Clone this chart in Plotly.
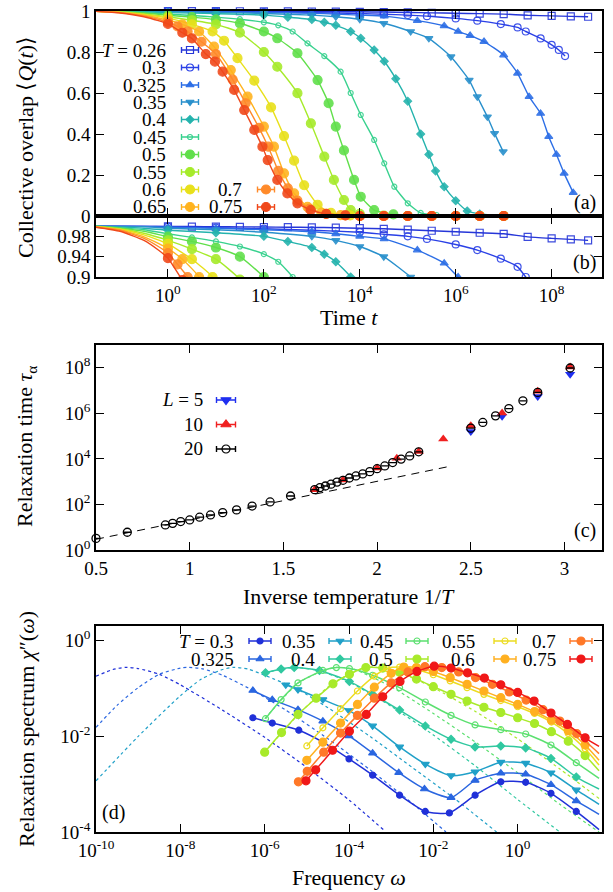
import plotly.graph_objects as go

W, H = 613, 892
SERIF = "Liberation Serif"
BLACK = "#000000"

# ---------------------------------------------------------------------------
# (a)/(b)  collective overlap <Q(t)>; time stored as log10(t)
# ---------------------------------------------------------------------------
T_LABELS_Q = ["0.26", "0.3", "0.325", "0.35", "0.4", "0.45",
              "0.5", "0.55", "0.6", "0.65", "0.7", "0.75"]

LOGT_026 = [-1.5, -0.5, 0.0, 0.5, 1.0, 1.5, 2.0, 2.5, 3.0, 3.5, 4.0, 4.5, 5.0, 5.5, 6.0, 6.5, 7.0, 7.5, 8.0, 8.4, 8.76]
Q_026 = [1.0, 0.9996, 0.9994, 0.9992, 0.999, 0.9987, 0.9984, 0.998, 0.9975, 0.997, 0.996, 0.9948, 0.993, 0.991, 0.989, 0.987, 0.985, 0.979, 0.976, 0.974, 0.972]

LOGT_030 = [-1.5, -0.5, 0.0, 1.0, 2.0, 3.0, 4.0, 4.5, 5.0, 5.4, 6.0, 6.45, 6.94, 7.29, 7.46, 7.77, 8.0, 8.15, 8.28]
Q_030 = [1.0, 0.9995, 0.999, 0.997, 0.995, 0.992, 0.988, 0.984, 0.98, 0.975, 0.964, 0.953, 0.936, 0.92, 0.9, 0.866, 0.835, 0.81, 0.78]

LOGT_0325 = [-1.5, -0.5, 0.0, 1.0, 2.0, 3.0, 3.5, 4.0, 4.51, 5.2, 5.76, 6.05, 6.3, 6.59, 7.0, 7.29, 7.53, 7.77, 7.94, 8.1, 8.26, 8.45]
Q_0325 = [1.0, 0.9993, 0.998, 0.996, 0.993, 0.989, 0.985, 0.98, 0.975, 0.953, 0.927, 0.9, 0.88, 0.851, 0.785, 0.696, 0.582, 0.5, 0.387, 0.3, 0.208, 0.114]

LOGT_035 = [-1.5, -0.5, 0.0, 1.0, 2.0, 3.0, 3.5, 4.0, 4.5, 5.06, 5.44, 5.9, 6.28, 6.45, 6.66, 6.81, 6.99]
Q_035 = [1.0, 0.999, 0.996, 0.993, 0.988, 0.98, 0.972, 0.96, 0.94, 0.9, 0.867, 0.777, 0.663, 0.582, 0.484, 0.403, 0.314]

LOGT_040 = [-1.5, -0.5, 0.0, 1.0, 2.0, 2.5, 3.0, 3.26, 3.5, 3.81, 4.02, 4.3, 4.51, 4.75, 5.0, 5.27, 5.44, 5.58, 5.76, 6.0, 6.24, 6.5, 7.0]
Q_040 = [1.0, 0.996, 0.992, 0.987, 0.98, 0.97, 0.958, 0.945, 0.93, 0.9, 0.867, 0.81, 0.755, 0.67, 0.56, 0.4, 0.3, 0.22, 0.143, 0.075, 0.025, 0.01, 0.0]

LOGT_045 = [-1.5, -0.5, 0.0, 0.5, 1.0, 1.5, 2.0, 2.3, 2.6, 2.91, 3.26, 3.6, 3.81, 4.02, 4.3, 4.51, 4.72, 5.0, 5.27, 5.6, 6.0, 6.5, 7.0]
Q_045 = [1.0, 0.993, 0.985, 0.978, 0.97, 0.96, 0.945, 0.93, 0.9, 0.842, 0.78, 0.704, 0.6, 0.493, 0.371, 0.257, 0.143, 0.062, 0.015, 0.005, 0.0, 0.0, 0.0]

LOGT_050 = [-1.5, -1.0, -0.5, 0.0, 0.5, 1.0, 1.5, 2.0, 2.28, 2.7, 3.12, 3.35, 3.5, 3.67, 3.88, 4.02, 4.3, 4.7, 5.0, 5.5, 6.0, 6.5, 7.0]
Q_050 = [1.0, 0.996, 0.99, 0.979, 0.97, 0.958, 0.94, 0.9, 0.867, 0.794, 0.663, 0.55, 0.436, 0.32, 0.176, 0.094, 0.029, 0.008, 0.0, 0.0, 0.0, 0.0, 0.0]

LOGT_055 = [-1.5, -1.0, -0.5, 0.0, 0.5, 1.0, 1.5, 2.0, 2.28, 2.7, 2.98, 3.26, 3.46, 3.67, 3.81, 4.0, 4.5, 5.0, 5.5, 6.0, 6.5, 7.0]
Q_055 = [0.999, 0.995, 0.986, 0.972, 0.955, 0.935, 0.895, 0.8, 0.728, 0.599, 0.452, 0.29, 0.176, 0.078, 0.029, 0.01, 0.002, 0.0, 0.0, 0.0, 0.0, 0.0]

LOGT_060 = [-1.5, -1.0, -0.5, 0.0, 0.5, 0.93, 1.17, 1.45, 1.8, 2.15, 2.42, 2.63, 2.84, 3.12, 3.4, 3.8, 4.5, 5.0, 5.5, 6.0, 6.5, 7.0]
Q_060 = [0.999, 0.994, 0.983, 0.965, 0.935, 0.9, 0.855, 0.77, 0.66, 0.53, 0.39, 0.27, 0.15, 0.055, 0.015, 0.003, 0.0, 0.0, 0.0, 0.0, 0.0, 0.0]

LOGT_065 = [-1.5, -1.0, -0.5, -0.2, 0.0, 0.3, 0.65, 0.96, 1.31, 1.66, 2.0, 2.21, 2.42, 2.63, 2.91, 3.2, 3.6, 4.0, 4.5, 5.0, 5.5, 6.0, 6.5, 7.0]
Q_065 = [0.999, 0.993, 0.979, 0.966, 0.956, 0.935, 0.9, 0.826, 0.712, 0.582, 0.436, 0.338, 0.208, 0.11, 0.045, 0.015, 0.004, 0.0, 0.0, 0.0, 0.0, 0.0, 0.0, 0.0]

LOGT_070 = [-1.5, -1.0, -0.5, -0.2, 0.0, 0.2, 0.41, 0.7, 1.0, 1.35, 1.62, 1.9, 2.09, 2.3, 2.5, 2.7, 2.95, 3.3, 3.7, 4.0, 4.5, 5.0, 5.5, 6.0, 6.5, 7.0]
Q_070 = [0.998, 0.992, 0.976, 0.96, 0.947, 0.925, 0.9, 0.85, 0.79, 0.665, 0.55, 0.43, 0.338, 0.22, 0.135, 0.075, 0.035, 0.01, 0.003, 0.0, 0.0, 0.0, 0.0, 0.0, 0.0, 0.0]

LOGT_075 = [-1.5, -1.0, -0.5, -0.2, 0.0, 0.3, 0.5, 0.79, 0.98, 1.14, 1.38, 1.59, 1.8, 1.97, 2.08, 2.28, 2.49, 2.7, 2.98, 3.3, 3.7, 4.0, 4.5, 5.0, 5.5, 6.0, 6.5, 7.0]
Q_075 = [0.998, 0.99, 0.972, 0.953, 0.937, 0.894, 0.866, 0.79, 0.753, 0.704, 0.615, 0.517, 0.42, 0.338, 0.273, 0.176, 0.11, 0.062, 0.029, 0.01, 0.003, 0.0, 0.0, 0.0, 0.0, 0.0, 0.0, 0.0]

Q_CURVES = [(LOGT_026, Q_026), (LOGT_030, Q_030), (LOGT_0325, Q_0325), (LOGT_035, Q_035),
            (LOGT_040, Q_040), (LOGT_045, Q_045), (LOGT_050, Q_050), (LOGT_055, Q_055),
            (LOGT_060, Q_060), (LOGT_065, Q_065), (LOGT_070, Q_070), (LOGT_075, Q_075)]

Q_COLORS = ["#2636d8", "#2a40e6", "#2c6ee6", "#2990cc", "#24b3ad", "#38d18e",
            "#60df4a", "#a6eb2a", "#e8e01a", "#ffb31e", "#ff8a2a", "#f0481a"]
Q_SYMBOLS = ["square-open", "circle-open", "triangle-up", "triangle-down", "diamond", "circle-open",
             "circle", "circle", "circle", "circle", "circle", "circle"]
Q_SIZES = [7, 7, 7, 7, 6, 5, 9, 9, 9, 9, 9, 9]

# ---------------------------------------------------------------------------
# (c)  relaxation time vs inverse temperature; tau stored as log10(tau)
# ---------------------------------------------------------------------------
INV_T_L20 = [0.5, 0.667, 0.87, 0.909, 0.952, 1.0, 1.053, 1.111, 1.176, 1.25, 1.333, 1.429, 1.538,
             1.667, 1.695, 1.724, 1.754, 1.786, 1.818, 1.852, 1.887, 1.923, 1.961, 2.0, 2.041,
             2.083, 2.128, 2.174, 2.222, 2.5, 2.564, 2.632, 2.703, 2.778, 2.857, 3.03]
LOG_TAU_L20 = [0.51, 0.78, 1.10, 1.17, 1.25, 1.32, 1.44, 1.54, 1.64, 1.76, 1.93, 2.11, 2.37,
               2.65, 2.74, 2.81, 2.89, 2.98, 3.06, 3.16, 3.25, 3.34, 3.44, 3.57, 3.69,
               3.84, 3.99, 4.13, 4.31, 5.35, 5.6, 5.89, 6.21, 6.55, 6.92, 7.99]
INV_T_L10 = [1.667, 1.818, 2.0, 2.105, 2.222, 2.353, 2.5, 2.667, 2.857, 3.03]
LOG_TAU_L10 = [2.65, 3.07, 3.6, 4.03, 4.32, 4.87, 5.45, 6.01, 6.97, 8.03]
INV_T_L5 = [2.5, 2.667, 2.857, 3.03]
LOG_TAU_L5 = [5.2, 5.87, 6.74, 7.72]
ARRH_INV_T = [0.5, 2.38]
ARRH_LOG_TAU = [0.47, 3.66]

# ---------------------------------------------------------------------------
# (d)  relaxation spectrum chi''(omega); both stored as log10
# ---------------------------------------------------------------------------
T_LABELS_CHI = ["0.3", "0.325", "0.35", "0.4", "0.45", "0.5", "0.55", "0.6", "0.7", "0.75"]

W_030 = [-6.28, -5.82, -5.19, -4.62, -4.0, -3.44, -2.80, -2.19, -1.62, -1.01, -0.40, 0.19, 0.79, 1.39, 1.93]
CHI_030 = [-1.61, -1.72, -1.87, -2.12, -2.47, -2.81, -3.23, -3.57, -3.6, -3.23, -2.95, -2.96, -3.19, -3.57, -3.95]
W_0325 = [-6.28, -5.82, -5.21, -4.62, -4.0, -3.44, -2.82, -2.21, -1.58, -1.01, -0.40, 0.19, 0.79, 1.39, 1.93]
CHI_0325 = [-1.04, -1.23, -1.44, -1.68, -1.99, -2.35, -2.76, -3.10, -3.28, -2.92, -2.77, -2.79, -3.01, -3.35, -3.63]
W_035 = [-5.5, -5.21, -4.62, -4.0, -3.44, -2.80, -2.19, -1.58, -1.01, -0.40, 0.19, 0.79, 1.39, 1.93]
CHI_035 = [-0.92, -1.02, -1.23, -1.46, -1.78, -2.22, -2.58, -2.82, -2.74, -2.54, -2.56, -2.76, -3.12, -3.42]
W_040 = [-5.98, -5.61, -5.3, -4.7, -3.99, -3.44, -2.80, -2.19, -1.58, -1.01, -0.40, 0.19, 0.79, 1.39, 1.93]
CHI_040 = [-0.67, -0.59, -0.56, -0.62, -0.85, -1.12, -1.45, -1.78, -2.06, -2.22, -2.20, -2.24, -2.46, -2.85, -3.10]
W_045 = [-5.98, -5.61, -5.21, -4.62, -4.3, -3.99, -3.44, -2.80, -2.19, -1.58, -1.01, -0.40, 0.19, 0.79, 1.39, 1.93]
CHI_045 = [-1.63, -1.23, -0.88, -0.62, -0.56, -0.58, -0.72, -0.98, -1.28, -1.56, -1.76, -1.86, -1.95, -2.18, -2.55, -2.88]
W_050 = [-6.0, -5.6, -5.21, -4.78, -4.38, -3.99, -3.6, -3.2, -2.8, -2.4, -2.0, -1.58, -1.2, -0.8, -0.4, 0.0, 0.4, 0.8, 1.2, 1.6, 1.93]
CHI_050 = [-2.33, -1.92, -1.54, -1.2, -0.9, -0.7, -0.56, -0.57, -0.66, -0.8, -0.96, -1.12, -1.26, -1.39, -1.5, -1.61, -1.73, -1.9, -2.1, -2.4, -2.72]
W_055 = [-5.0, -4.62, -4.2, -3.8, -3.4, -3.1, -2.8, -2.4, -2.0, -1.6, -1.2, -0.8, -0.4, 0.0, 0.4, 0.8, 1.2, 1.6, 1.93]
CHI_055 = [-2.2, -1.82, -1.42, -1.05, -0.74, -0.58, -0.55, -0.6, -0.71, -0.84, -0.98, -1.12, -1.25, -1.38, -1.52, -1.7, -1.94, -2.26, -2.6]
W_060 = [-5.0, -4.62, -4.2, -3.8, -3.4, -3.0, -2.7, -2.4, -2.0, -1.6, -1.2, -0.8, -0.4, 0.0, 0.4, 0.8, 1.2, 1.6, 1.93]
CHI_060 = [-2.5, -2.12, -1.72, -1.33, -0.97, -0.68, -0.55, -0.56, -0.64, -0.77, -0.91, -1.05, -1.19, -1.33, -1.48, -1.66, -1.88, -2.18, -2.5]
W_070 = [-5.2, -4.99, -4.6, -4.2, -3.8, -3.4, -3.0, -2.6, -2.2, -1.8, -1.4, -1.0, -0.6, -0.2, 0.2, 0.6, 1.0, 1.4, 1.93]
CHI_070 = [-2.95, -2.73, -2.33, -1.93, -1.56, -1.2, -0.88, -0.65, -0.54, -0.56, -0.65, -0.77, -0.91, -1.07, -1.24, -1.44, -1.68, -1.94, -2.36]
W_075 = [-5.02, -4.79, -4.39, -3.99, -3.59, -3.20, -2.79, -2.39, -1.98, -1.58, -1.19, -0.79, -0.40, 0.0, 0.39, 0.79, 1.18, 1.6, 1.93]
CHI_075 = [-2.93, -2.70, -2.29, -1.89, -1.54, -1.17, -0.85, -0.64, -0.53, -0.57, -0.67, -0.78, -0.92, -1.08, -1.26, -1.51, -1.75, -2.03, -2.21]

CHI_CURVES = [(W_030, CHI_030), (W_0325, CHI_0325), (W_035, CHI_035), (W_040, CHI_040),
              (W_045, CHI_045), (W_050, CHI_050), (W_055, CHI_055), (W_060, CHI_060),
              (W_070, CHI_070), (W_075, CHI_075)]

# fitted alpha-relaxation spectra (dotted)
FIT_W_030 = [-10.0, -9.6, -9.31, -9.0, -8.5, -8.0, -7.0, -6.0, -5.0, -4.0, -3.16]
FIT_CHI_030 = [-0.74, -0.6, -0.556, -0.58, -0.7, -0.92, -1.45, -2.02, -2.65, -3.33, -3.97]
FIT_W_0325 = [-10.0, -9.5, -9.0, -8.5, -8.0, -7.85, -7.5, -7.0, -6.28, -5.5, -4.5, -3.5, -2.5, -1.7]
FIT_CHI_0325 = [-1.81, -1.35, -0.98, -0.7, -0.57, -0.556, -0.58, -0.72, -1.04, -1.45, -2.05, -2.7, -3.4, -4.0]
FIT_W_035 = [-10.0, -9.0, -8.0, -7.5, -7.0, -6.75, -6.4, -6.0, -5.21, -4.5, -3.5, -2.5, -1.5, -0.5]
FIT_CHI_035 = [-2.93, -2.0, -1.15, -0.8, -0.6, -0.556, -0.59, -0.72, -1.02, -1.4, -2.0, -2.65, -3.3, -4.0]
FIT_W_040 = [-6.0, -5.3, -4.7, -4.0, -3.0, -2.0, -1.0, 0.0, 1.0]
FIT_CHI_040 = [-0.67, -0.556, -0.63, -0.86, -1.37, -1.97, -2.62, -3.32, -4.0]
FIT_W_045 = [-6.0, -5.2, -4.6, -4.3, -3.9, -3.0, -2.0, -1.0, 0.0, 1.0, 1.93]
FIT_CHI_045 = [-1.63, -0.88, -0.62, -0.556, -0.59, -0.96, -1.52, -2.12, -2.76, -3.42, -4.0]
FIT_W_050 = [-6.0, -5.2, -4.4, -3.6, -3.0, -2.0, -1.0, 0.0, 1.0, 1.93]
FIT_CHI_050 = [-2.33, -1.54, -0.9, -0.556, -0.6, -0.98, -1.48, -2.05, -2.68, -3.3]

FIT_CURVES = [(FIT_W_030, FIT_CHI_030, 0), (FIT_W_0325, FIT_CHI_0325, 1), (FIT_W_035, FIT_CHI_035, 2),
              (FIT_W_040, FIT_CHI_040, 3), (FIT_W_045, FIT_CHI_045, 4), (FIT_W_050, FIT_CHI_050, 5)]

CHI_COLORS = ["#2030d8", "#2a66e0", "#20a0c8", "#30c8a0", "#5ce070",
              "#a8ea2a", "#ecdc20", "#ffb020", "#ff7828", "#f01818"]
CHI_SYMBOLS = ["circle", "triangle-up", "triangle-down", "diamond", "circle-open",
               "circle", "circle-open", "circle", "circle", "circle"]
CHI_SIZES = [6, 7, 7, 6, 6, 8, 6, 8, 8, 8]


def pow10(vals):
    return [10 ** v for v in vals]


def xdom(left, right):
    return [left / W, right / W]


def ydom(top, bottom):
    return [1 - bottom / H, 1 - top / H]


def px(x):
    return x / W


def py(y):
    return 1 - y / H


def log_minor(lo, hi):
    """Minor tick positions 2..9 x 10^n plus the odd decades."""
    vals = []
    for n in range(lo, hi + 1):
        for k in range(1, 10):
            if k == 1 and n % 2 == 0:
                continue
            vals.append(k * 10.0 ** n)
    return vals


def pow_text(n):
    return "10<sup>%s</sup>" % (str(n) if n >= 0 else "-" + str(-n))


fig = go.Figure()

# ---- (a) and (b) ---------------------------------------------------------
for (logt, q), col, sym, size in zip(Q_CURVES, Q_COLORS, Q_SYMBOLS, Q_SIZES):
    t = pow10(logt)
    mt = [v for v, lv in zip(t, logt) if lv >= 0]
    mq = [v for v, lv in zip(q, logt) if lv >= 0]
    for xa, ya, clip in (("x", "y", False), ("x2", "y2", True)):
        fig.add_trace(go.Scatter(x=t, y=q, xaxis=xa, yaxis=ya, mode="lines",
                                 line=dict(color=col, width=1.4, shape="spline", smoothing=0.5),
                                 hoverinfo="skip", showlegend=False))
        fig.add_trace(go.Scatter(x=mt, y=mq, xaxis=xa, yaxis=ya, mode="markers",
                                 marker=dict(symbol=sym, size=size, color=col, opacity=0.9,
                                             line=dict(color=col, width=1.2)),
                                 cliponaxis=clip, showlegend=False))

# ---- (c) -----------------------------------------------------------------
fig.add_trace(go.Scatter(x=ARRH_INV_T, y=pow10(ARRH_LOG_TAU), xaxis="x3", yaxis="y3", mode="lines",
                         line=dict(color=BLACK, width=1, dash="8px,6px"), showlegend=False))
fig.add_trace(go.Scatter(x=INV_T_L5, y=pow10(LOG_TAU_L5), xaxis="x3", yaxis="y3", mode="markers",
                         marker=dict(symbol="triangle-down", size=9, color="#1f2ff0"),
                         cliponaxis=False, showlegend=False))
fig.add_trace(go.Scatter(x=INV_T_L10, y=pow10(LOG_TAU_L10), xaxis="x3", yaxis="y3", mode="markers",
                         marker=dict(symbol="triangle-up", size=9, color="#f02020"),
                         cliponaxis=False, showlegend=False))
fig.add_trace(go.Scatter(x=INV_T_L20, y=pow10(LOG_TAU_L20), xaxis="x3", yaxis="y3", mode="markers",
                         marker=dict(symbol="circle-open", size=8, color=BLACK, line=dict(width=1.3)),
                         error_y=dict(type="percent", value=0.5, width=3.5, thickness=1.2, color=BLACK),
                         cliponaxis=False, showlegend=False))

# ---- (d) -----------------------------------------------------------------
for fw, fchi, idx in FIT_CURVES:
    fig.add_trace(go.Scatter(x=pow10(fw), y=pow10(fchi), xaxis="x4", yaxis="y4", mode="lines",
                             line=dict(color=CHI_COLORS[idx], width=1.2, dash="dot", shape="spline", smoothing=0.6),
                             hoverinfo="skip", showlegend=False))
for (lw, lchi), col, sym, size in zip(CHI_CURVES, CHI_COLORS, CHI_SYMBOLS, CHI_SIZES):
    w = pow10(lw)
    chi = pow10(lchi)
    fig.add_trace(go.Scatter(x=w, y=chi, xaxis="x4", yaxis="y4", mode="lines",
                             line=dict(color=col, width=1.5, shape="spline", smoothing=0.6),
                             hoverinfo="skip", showlegend=False))
    fig.add_trace(go.Scatter(x=w[:-1], y=chi[:-1], xaxis="x4", yaxis="y4", mode="markers",
                             marker=dict(symbol=sym, size=size, color=col, line=dict(color=col, width=1.2)),
                             showlegend=False))

# ---- legend samples on a pixel-coordinate overlay --------------------------
def sample(x, y, col, sym, size, half=8.5):
    fig.add_trace(go.Scatter(x=[x], y=[y], xaxis="x5", yaxis="y5", mode="markers",
                             marker=dict(symbol=sym, size=size, color=col, line=dict(color=col, width=1.2)),
                             error_x=dict(type="constant", value=half, width=3, thickness=1.4, color=col),
                             cliponaxis=False, showlegend=False, hoverinfo="skip"))


annotations = []


def label(x, y, text, size=19, anchor="right"):
    annotations.append(dict(x=px(x), y=py(y), xref="paper", yref="paper", text=text, showarrow=False,
                            xanchor=anchor, yanchor="middle",
                            font=dict(family=SERIF, size=size, color=BLACK)))


def title(x, y, text, angle=0):
    annotations.append(dict(x=px(x), y=py(y), xref="paper", yref="paper", text=text, showarrow=False,
                            textangle=angle, xanchor="center", yanchor="middle",
                            font=dict(family=SERIF, size=22, color=BLACK)))


# (a) legend: two columns
a_rows = [50, 67.5, 85, 102, 119.5, 137, 154.5, 172, 189.5, 207]
for i, lab in enumerate(T_LABELS_Q):
    if i < 10:
        tx, sx, yy = 168, 190, a_rows[i]
    else:
        tx, sx, yy = 244, 266, a_rows[i - 2]
    text = ("<i>T</i> = " + lab) if i == 0 else lab
    label(tx, yy, text)
    sample(sx, yy, Q_COLORS[i], Q_SYMBOLS[i], Q_SIZES[i])

# (c) legend
c_rows = [400, 424.5, 449]
c_entries = [("<i>L</i> = 5", "#1f2ff0", "triangle-down", 9),
             ("10", "#f02020", "triangle-up", 9),
             ("20", BLACK, "circle-open", 8)]
for yy, (text, col, sym, size) in zip(c_rows, c_entries):
    label(205, yy, text)
    sample(226, yy, col, sym, size, half=9.5)

# (d) legend: five columns, two rows
d_cols = [(236, 260), (317, 340), (395, 417), (477, 505), (558, 581)]
d_rows = [641, 659]
for i, lab in enumerate(T_LABELS_CHI):
    tx, sx = d_cols[i // 2]
    yy = d_rows[i % 2]
    text = ("<i>T</i> = " + lab) if i == 0 else lab
    label(tx, yy, text)
    sample(sx, yy, CHI_COLORS[i], CHI_SYMBOLS[i], CHI_SIZES[i], half=11)

# panel letters
label(598, 202, "(a)", size=20)
label(598, 262, "(b)", size=20)
label(598, 530, "(c)", size=20)
label(100, 812, "(d)", size=20, anchor="left")

# axis titles
title(26, 147, "Collective overlap ⟨<i>Q</i>(<i>t</i>)⟩", angle=-90)
title(26, 447, "Relaxation time <i>τ</i><sub>α</sub>", angle=-90)
title(26, 729, "Relaxation spectrum <i>χ</i>″(<i>ω</i>)", angle=-90)
title(349, 317, "Time <i>t</i>")
title(349, 596, "Inverse temperature 1/<i>T</i>")
title(349, 877, "Frequency <i>ω</i>")

# ---- axes ------------------------------------------------------------------
TICKFONT = dict(family=SERIF, size=19, color=BLACK)
BASE = dict(showline=True, linecolor=BLACK, linewidth=1.5, mirror="allticks", ticks="inside",
            ticklen=8, tickwidth=1.2, tickcolor=BLACK, showgrid=False, zeroline=False,
            tickfont=TICKFONT, fixedrange=True, automargin=False)


def minor_axis(over, anchor, side, tickvals, rng, log=True):
    """Tick-only twin axis carrying the short minor ticks."""
    d = dict(overlaying=over, anchor=anchor, side=side, range=rng, tickmode="array", tickvals=tickvals,
             ticks="inside", ticklen=4, tickwidth=1, tickcolor=BLACK, showticklabels=False,
             showline=True, linecolor=BLACK, linewidth=1.5, mirror="allticks",
             showgrid=False, zeroline=False, fixedrange=True, automargin=False)
    if log:
        d["type"] = "log"
    return d


time_ticks = [0, 2, 4, 6, 8]
tau_ticks = [0, 2, 4, 6, 8]
freq_ticks = [-10, -8, -6, -4, -2, 0]
chi_ticks = [-4, -2, 0]
TIME_RANGE = [-1.5, 9.05]

time_axis = dict(BASE, type="log", range=TIME_RANGE, tickmode="array",
                 tickvals=pow10(time_ticks), ticktext=[pow_text(n) for n in time_ticks])

fig.update_layout(
    width=W, height=H, autosize=False, margin=dict(l=0, r=0, t=0, b=0, pad=0, autoexpand=False),
    paper_bgcolor="white", plot_bgcolor="rgba(0,0,0,0)", showlegend=False,
    xaxis=dict(time_axis, domain=xdom(96, 602), anchor="y", showticklabels=False),
    yaxis=dict(BASE, domain=ydom(11, 216), anchor="x", range=[0, 1], tickmode="array",
               tickvals=[0, 0.2, 0.4, 0.6, 0.8, 1.0], ticktext=["0", "0.2", "0.4", "0.6", "0.8", "1"]),
    xaxis2=dict(time_axis, domain=xdom(96, 602), anchor="y2"),
    yaxis2=dict(BASE, domain=ydom(216, 277), anchor="x2", range=[0.9, 1.02], tickmode="array",
                tickvals=[0.9, 0.94, 0.98], ticktext=["0.9", "0.94", "0.98"]),
    xaxis3=dict(BASE, domain=xdom(96, 602), anchor="y3", range=[0.5, 3.2], tickmode="array",
                tickvals=[0.5, 1, 1.5, 2, 2.5, 3], ticktext=["0.5", "1", "1.5", "2", "2.5", "3"]),
    yaxis3=dict(BASE, domain=ydom(345, 550), anchor="x3", type="log", range=[0, 9], tickmode="array",
                tickvals=pow10(tau_ticks), ticktext=[pow_text(n) for n in tau_ticks]),
    xaxis4=dict(BASE, domain=xdom(96, 602), anchor="y4", type="log", range=[-10, 2], tickmode="array",
                tickvals=pow10(freq_ticks), ticktext=[pow_text(n) for n in freq_ticks]),
    yaxis4=dict(BASE, domain=ydom(626, 832), anchor="x4", type="log", range=[-4, 0.31], tickmode="array",
                tickvals=pow10(chi_ticks), ticktext=[pow_text(n) for n in chi_ticks]),
    xaxis5=dict(domain=[0, 1], range=[0, W], visible=False, anchor="y5", fixedrange=True, automargin=False),
    yaxis5=dict(domain=[0, 1], range=[H, 0], visible=False, anchor="x5", fixedrange=True, automargin=False),
    # minor ticks
    xaxis6=minor_axis("x", "y", "bottom", log_minor(-2, 9), TIME_RANGE),
    xaxis7=minor_axis("x2", "y2", "bottom", log_minor(-2, 9), TIME_RANGE),
    xaxis8=minor_axis("x3", "y3", "bottom", [0.6, 0.7, 0.8, 0.9, 1.1, 1.2, 1.3, 1.4, 1.6, 1.7, 1.8, 1.9,
                                             2.1, 2.2, 2.3, 2.4, 2.6, 2.7, 2.8, 2.9, 3.1], [0.5, 3.2], log=False),
    yaxis6=minor_axis("y3", "x3", "left", log_minor(0, 8), [0, 9]),
    xaxis9=minor_axis("x4", "y4", "bottom", log_minor(-10, 1), [-10, 2]),
    yaxis7=minor_axis("y4", "x4", "left", log_minor(-4, 0), [-4, 0.31]),
    annotations=annotations,
    shapes=[dict(type="line", xref="paper", yref="paper", x0=px(96), x1=px(602), y0=py(216), y1=py(216),
                 line=dict(color=BLACK, width=2.4))],
)

fig.write_html("out.html")
